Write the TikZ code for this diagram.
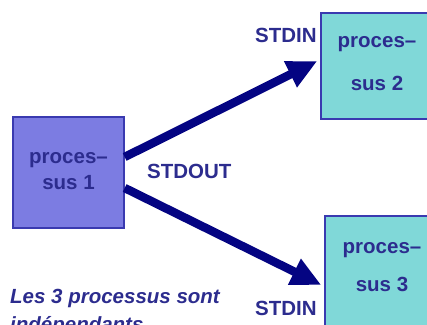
\documentclass[tikz,border=0pt]{standalone}
\usepackage{fontspec}
\setmainfont{Liberation Sans}
\usetikzlibrary{arrows.meta}
\definecolor{procA}{RGB}{124,124,226}
\definecolor{procB}{RGB}{128,216,216}
\definecolor{edgeblue}{RGB}{58,58,176}
\definecolor{inkblue}{RGB}{44,44,142}
\definecolor{pipe}{RGB}{4,4,130}
\tikzset{
  procbox/.style={draw=edgeblue, line width=1.4pt, rectangle, inner sep=0pt},
  lbl/.style={text=inkblue, font=\fontsize{20.5}{24}\selectfont\bfseries, inner sep=0pt, anchor=base},
  note/.style={text=inkblue, font=\fontsize{20.5}{24}\selectfont\bfseries\itshape, inner sep=0pt, anchor=base west},
  flow/.style={draw=pipe, line width=8.5pt, -{Triangle[length=30pt,width=27pt]}}
}
\begin{document}
\begin{tikzpicture}[x=1pt,y=-1pt]
  \useasboundingbox (0,0) rectangle (427,324);
  \clip (0,0) rectangle (427,324);

  % the three processes
  \node[procbox, fill=procA, minimum width=111pt, minimum height=111pt] (p1) at (68.5,172.5) {};
  \node[procbox, fill=procB, minimum width=111pt, minimum height=106pt] (p2) at (376.5,66) {};
  \node[procbox, fill=procB, minimum width=112pt, minimum height=120pt] (p3) at (381,276) {};

  % process names
  \node[lbl] (p1a) at (68.5,163) {proces–};
  \node[lbl] (p1b) at (68.5,189) {sus 1};
  \node[lbl] (p2a) at (377,47) {proces–};
  \node[lbl] (p2b) at (377,90) {sus 2};
  \node[lbl] (p3a) at (382,253) {proces–};
  \node[lbl] (p3b) at (382,291) {sus 3};

  % pipes from the standard output to the standard inputs
  \draw[flow] ([yshift=15.5pt]p1.east) -- ([xshift=-3pt,yshift=5pt]p2.west);
  \draw[flow] ([yshift=-15.5pt]p1.east) -- ([xshift=-3pt,yshift=-9pt]p3.west);

  % stream names
  \node[lbl, anchor=base west] (in2) at (255,42) {STDIN};
  \node[lbl, anchor=base west] (out1) at (147,178) {STDOUT};
  \node[lbl, anchor=base west] (in3) at (255,315) {STDIN};

  % remark
  \node[note] (rem1) at (10,303) {Les 3 processus sont};
  \node[note] (rem2) at (10,331) {indépendants};
\end{tikzpicture}
\end{document}
